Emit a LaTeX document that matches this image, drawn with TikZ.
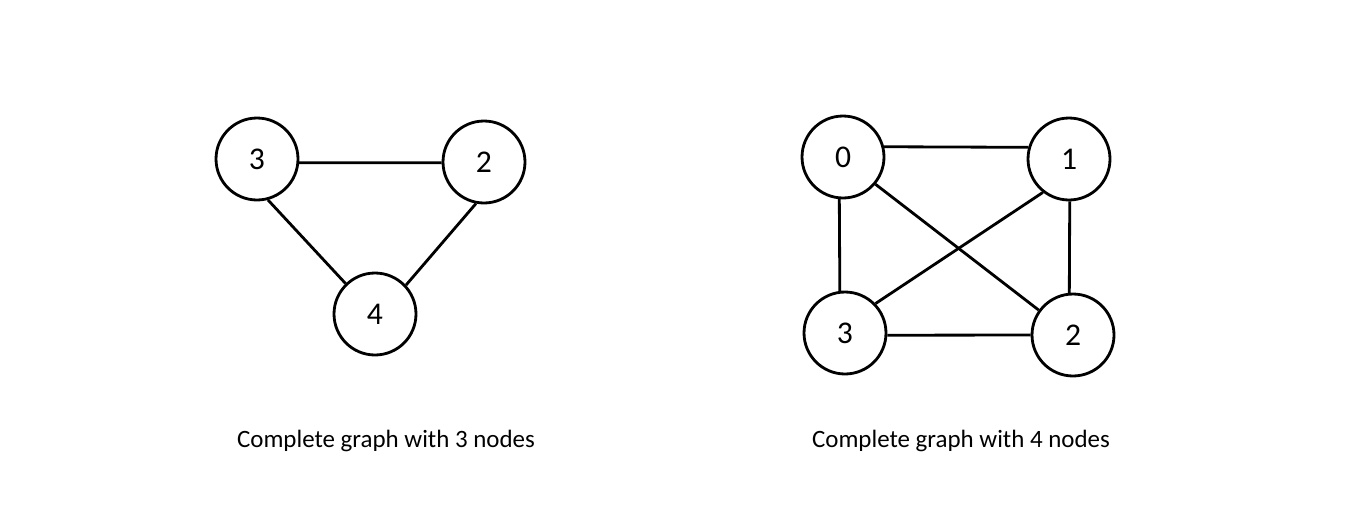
\documentclass[tikz,border=0pt]{standalone}
\usepackage{fontspec}
\setmainfont{Carlito}
\usetikzlibrary{backgrounds}

\begin{document}
\begin{tikzpicture}[x=0.02cm, y=-0.02cm,
    vertex/.style={draw, circle, line width=1.6pt, minimum size=1.64cm, inner sep=0pt, font=\fontsize{18}{20}\selectfont},
    edge/.style={line width=1.6pt},
    caption/.style={font=\fontsize{14.2}{17}\selectfont}]
              % Canvas
              \useasboundingbox (0,0) rectangle (1368,528);
              % Complete graph with 3 nodes
              \node[vertex] (a3) at (257,159) {3};
              \node[vertex] (a2) at (484,162) {2};
              \node[vertex] (a4) at (375,314) {4};
              \draw[edge] (a3.-5)--(a2.181);
              \draw[edge] (a3.-75)--(a4.134);
              \draw[edge] (a2.259)--(a4.43);
              % Complete graph with 4 nodes
              \node[vertex] (b0) at (843,157) {0};
              \node[vertex] (b1) at (1069,159) {1};
              \node[vertex] (b3) at (845,333) {3};
              \node[vertex] (b2) at (1073,335) {2};
              \draw[edge] (b0.14)--(b1.164);
              \draw[edge] (b0.-95)--(b3.97);
              \draw[edge] (b1.-89)--(b2.95);
              \draw[edge] (b3.-3)--(b2.180);
              \draw[edge] (b0.-40)--(b2.144);
              \draw[edge] (b1.232)--(b3.44);
              % Captions
              \node[caption] (cap3) at (386,441) {Complete graph with 3 nodes};
              \node[caption] (cap4) at (961,441) {Complete graph with 4 nodes};
      \end{tikzpicture}
\end{document}
